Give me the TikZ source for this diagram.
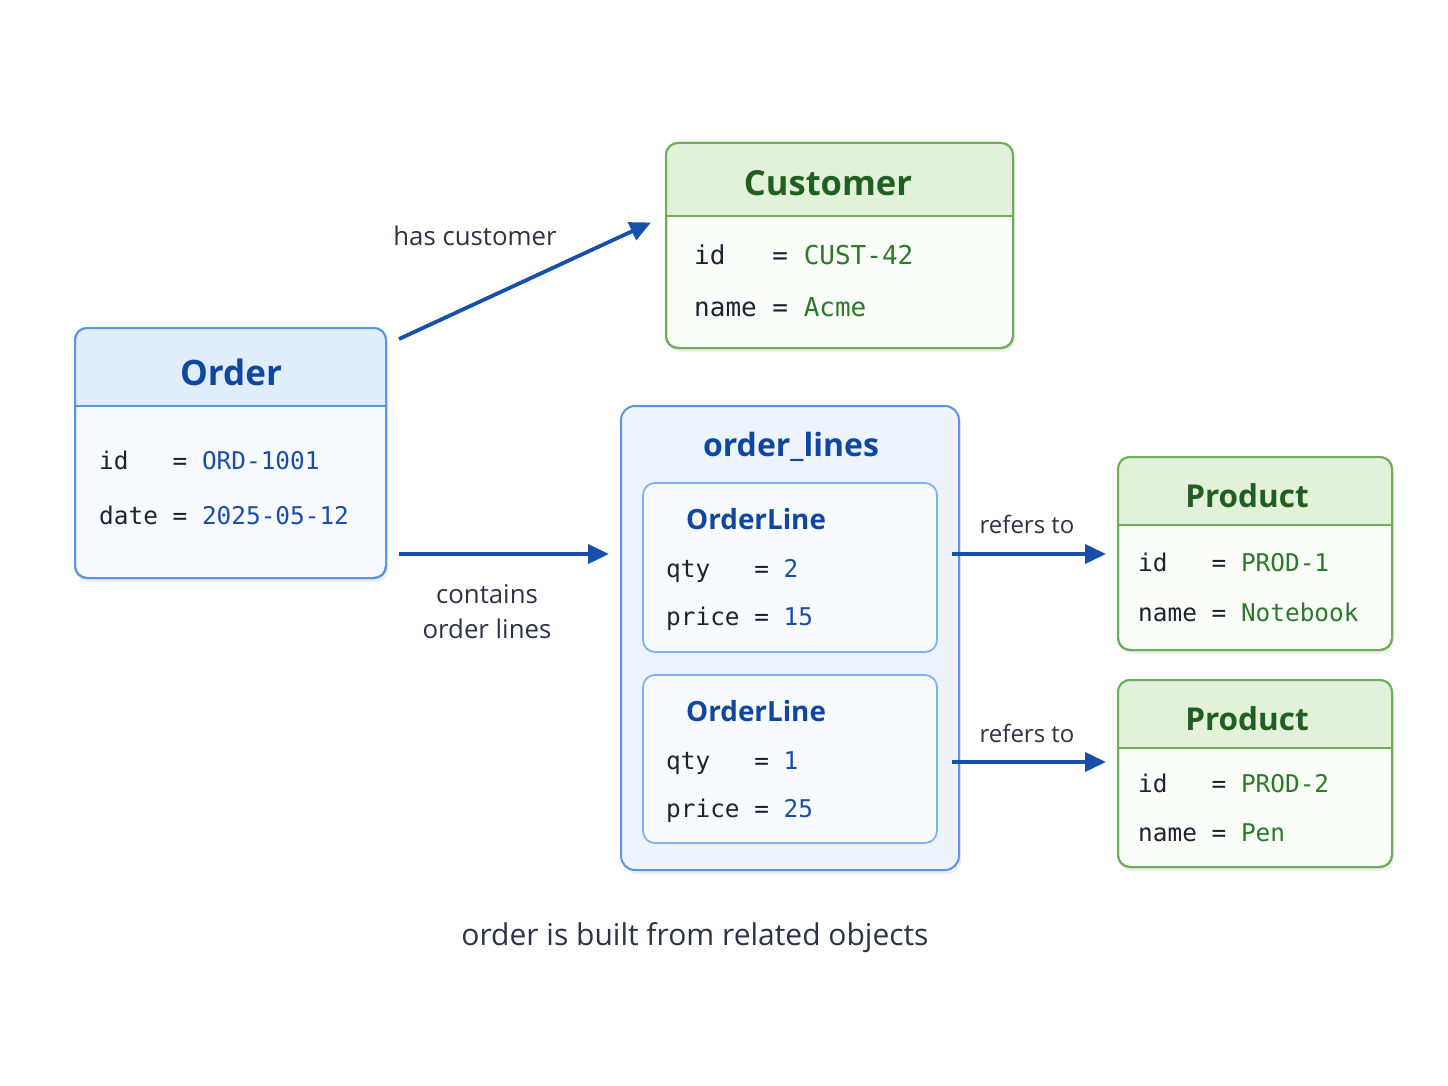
\documentclass[tikz,border=0pt]{standalone}
\usepackage{fontspec}
\setmainfont{Open Sans}
\setmonofont{DejaVu Sans Mono}
\usetikzlibrary{arrows.meta,shadows}
\definecolor{bline}{HTML}{5A96E3}
\definecolor{bline2}{HTML}{80B2EE}
\definecolor{bhdr}{HTML}{E2EDFB}
\definecolor{bbody}{HTML}{F7FAFF}
\definecolor{bcont}{HTML}{EEF4FD}
\definecolor{btitle}{HTML}{0E47A1}
\definecolor{bval}{HTML}{1A4DAA}
\definecolor{gline}{HTML}{6DAF58}
\definecolor{ghdr}{HTML}{E3F1DA}
\definecolor{gbody}{HTML}{FAFDF8}
\definecolor{gtitle}{HTML}{1F5F1F}
\definecolor{gval}{HTML}{2A7A2A}
\definecolor{arr}{HTML}{1750A8}
\definecolor{keytxt}{HTML}{1C2333}
\definecolor{lbl}{HTML}{2B3445}
\tikzset{
  shd/.style={drop shadow={opacity=0.12,shadow xshift=2pt,shadow yshift=-4pt}},
  bbox/.style={draw=bline,line width=2pt,fill=bbody,rounded corners=12pt,shd},
  gbox/.style={draw=gline,line width=2pt,fill=gbody,rounded corners=12pt,shd},
  contbox/.style={draw=bline,line width=2pt,fill=bcont,rounded corners=14pt,shd},
  linebox/.style={draw=bline2,line width=1.8pt,fill=bbody,rounded corners=12pt},
  btitlet/.style={font=\fontsize{35}{40}\selectfont\bfseries,text=btitle,anchor=base,inner sep=0pt},
  gtitlet/.style={font=\fontsize{34.5}{40}\selectfont\bfseries,text=gtitle,anchor=base,inner sep=0pt},
  rowt/.style={font=\fontsize{24.4}{30}\ttfamily,text=keytxt,anchor=base west,inner sep=0pt},
  lblt/.style={font=\fontsize{25.8}{30}\selectfont,text=lbl,anchor=base,inner sep=0pt,align=center},
  conn/.style={draw=arr,line width=3.8pt,-{Triangle[length=21pt,width=19pt]}},
}
\newcommand\hdrbox[7]{% name, x1,y1,x2,y2,ydiv, prefix
  \node[#7box,minimum width={(#4-#2)*1pt},minimum height={(#5-#3)*1pt},inner sep=0pt] (#1) at ({(#2+#4)/2},{(#3+#5)/2}) {};
  \begin{scope}
    \clip[rounded corners=12pt] (#2,#3) rectangle (#4,#5);
    \fill[#7hdr] (#2,#3) rectangle (#4,#6);
  \end{scope}
  \draw[#7line,line width=1.6pt] (#2,#6) -- (#4,#6);
  \draw[#7line,line width=2pt,rounded corners=12pt] (#2,#3) rectangle (#4,#5);
}
\begin{document}
\begin{tikzpicture}[x=1pt,y=-1pt]
\useasboundingbox[fill=white] (0,0) rectangle (1448,1086);

% Order
\hdrbox{order}{75}{328}{386}{578}{406}{b}
\node[btitlet] (ordert) at (231,385) {Order};
\node[rowt] (ord1) at (99,469) {id~~~=~\textcolor{bval}{ORD-1001}};
\node[rowt] (ord2) at (99,524) {date~=~\textcolor{bval}{2025-05-12}};

% Customer
\hdrbox{cust}{666}{143}{1013}{348}{216}{g}
\node[gtitlet] (custt) at (828,196) {Customer};
\node[rowt,font=\fontsize{26}{30}\ttfamily] (cust1) at (694,264) {id~~~=~\textcolor{gval}{CUST-42}};
\node[rowt,font=\fontsize{26}{30}\ttfamily] (cust2) at (694,316) {name~=~\textcolor{gval}{Acme}};

% order_lines container
\node[contbox,minimum width=338pt,minimum height=464pt,inner sep=0pt] (ol) at (790,638) {};
\node[btitlet,font=\fontsize{32}{36}\selectfont\bfseries] (olt) at (791,456) {order\_lines};

\node[linebox,minimum width=294pt,minimum height=169pt,inner sep=0pt] (l1) at (790,567.5) {};
\node[btitlet,font=\fontsize{27.8}{32}\selectfont\bfseries,anchor=base west] (l1t) at (686,529) {OrderLine};
\node[rowt] (l1a) at (666,577) {qty~~~=~\textcolor{bval}{2}};
\node[rowt] (l1b) at (666,625) {price~=~\textcolor{bval}{15}};

\node[linebox,minimum width=294pt,minimum height=168pt,inner sep=0pt] (l2) at (790,759) {};
\node[btitlet,font=\fontsize{27.8}{32}\selectfont\bfseries,anchor=base west] (l2t) at (686,721) {OrderLine};
\node[rowt] (l2a) at (666,769) {qty~~~=~\textcolor{bval}{1}};
\node[rowt] (l2b) at (666,817) {price~=~\textcolor{bval}{25}};

% Products
\hdrbox{p1}{1118}{457}{1392}{650}{525}{g}
\node[gtitlet,font=\fontsize{31.5}{36}\selectfont\bfseries] (p1t) at (1247,507) {Product};
\node[rowt] (p1a) at (1138,571) {id~~~=~\textcolor{gval}{PROD-1}};
\node[rowt] (p1b) at (1138,621) {name~=~\textcolor{gval}{Notebook}};

\hdrbox{p2}{1118}{680}{1392}{867}{748}{g}
\node[gtitlet,font=\fontsize{31.5}{36}\selectfont\bfseries] (p2t) at (1247,730) {Product};
\node[rowt] (p2a) at (1138,792) {id~~~=~\textcolor{gval}{PROD-2}};
\node[rowt] (p2b) at (1138,841) {name~=~\textcolor{gval}{Pen}};

% connectors
\draw[conn] ([xshift=12pt,yshift=-12pt]order.north east) -- ([xshift=-14pt,yshift=23pt]cust.west);
\draw[conn] ([xshift=12pt,yshift=-101pt]order.east) -- ([xshift=-11pt,yshift=84pt]ol.west);
\draw[conn] ([xshift=14pt,yshift=13.5pt]l1.east) -- ([xshift=-11pt,yshift=-0.5pt]p1.west);
\draw[conn] ([xshift=14pt,yshift=-3pt]l2.east) -- ([xshift=-11pt,yshift=11.5pt]p2.west);

% labels
\node[lblt] (lhc) at (475,245) {has customer};
\node[lblt] (lco) at (487,603) {contains};
\node[lblt] (lco2) at (487,638) {order lines};
\node[lblt,font=\fontsize{24}{28}\selectfont] (lr1) at (1027,533) {refers to};
\node[lblt,font=\fontsize{24}{28}\selectfont] (lr2) at (1027,742) {refers to};
\node[lblt,font=\fontsize{30}{34}\selectfont] (cap) at (695,945) {order is built from related objects};
\end{tikzpicture}
\end{document}
